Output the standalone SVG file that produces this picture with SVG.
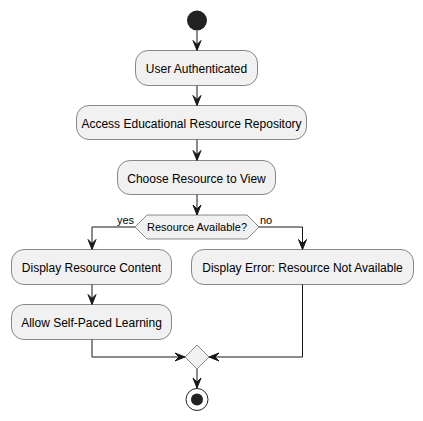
<svg xmlns="http://www.w3.org/2000/svg" width="423" height="421" viewBox="0 0 423 421">
<style>
.n{fill:#F1F1F1;stroke:#181818;stroke-width:0.5}
.t{font-family:"Liberation Sans",Arial,sans-serif;font-size:12px;fill:#000;text-anchor:middle}
.s{font-family:"Liberation Sans",Arial,sans-serif;font-size:11px;fill:#000}
.l{fill:none;stroke:#181818;stroke-width:1}
.a{fill:#181818;stroke:#181818;stroke-width:1}
</style>
<rect width="423" height="421" fill="#FFFFFF"/>
<g id="start"><circle cx="197" cy="20.5" r="10" fill="#222222"/></g>
<g id="n1"><rect class="n" x="135.5" y="50.5" width="122" height="35" rx="12.5"/><text class="t" x="196.5" y="72.5">User Authenticated</text></g>
<g id="n2"><rect class="n" x="76.5" y="105.5" width="230" height="34" rx="12.5"/><text class="t" x="191.5" y="127.5">Access Educational Resource Repository</text></g>
<g id="n3"><rect class="n" x="117.5" y="160.5" width="158" height="34" rx="12.5"/><text class="t" x="196.5" y="183">Choose Resource to View</text></g>
<g id="d1"><polygon class="n" points="135,227 147,215 247,215 259,227 247,239 147,239"/><text class="s" x="197" y="230.7" text-anchor="middle">Resource Available?</text></g>
<g id="n4"><rect class="n" x="11.5" y="249.5" width="160" height="35" rx="12.5"/><text class="t" x="91.5" y="271.5">Display Resource Content</text></g>
<g id="n5"><rect class="n" x="191.5" y="249.5" width="222" height="35" rx="12.5"/><text class="t" x="302.5" y="271.5">Display Error: Resource Not Available</text></g>
<g id="n6"><rect class="n" x="11.5" y="304.5" width="160" height="35" rx="12.5"/><text class="t" x="91.5" y="326.5">Allow Self-Paced Learning</text></g>
<g id="merge"><polygon class="n" points="197,345 209,357 197,369 185,357"/></g>
<g id="end"><circle cx="197" cy="399.5" r="11" fill="none" stroke="#222222" stroke-width="1"/><circle cx="197" cy="399.5" r="6" fill="#222222"/></g>
<g id="connectors">
<path class="l" d="M197,30.5 V50"/><polygon class="a" points="193,40.5 197,50.5 201,40.5 197,44.5"/>
<path class="l" d="M197,85.5 V105"/><polygon class="a" points="193,95.5 197,105.5 201,95.5 197,99.5"/>
<path class="l" d="M197,139.5 V160"/><polygon class="a" points="193,150.5 197,160.5 201,150.5 197,154.5"/>
<path class="l" d="M197,194.5 V214.5"/><polygon class="a" points="193,205 197,215 201,205 197,209"/>
<path class="l" d="M135,227 H92 V249"/><polygon class="a" points="88,239.5 92,249.5 96,239.5 92,243.5"/>
<text class="s" x="117" y="224">yes</text>
<path class="l" d="M259,227 H302.5 V249"/><polygon class="a" points="298.5,239.5 302.5,249.5 306.5,239.5 302.5,243.5"/>
<text class="s" x="260" y="224">no</text>
<path class="l" d="M92,284.5 V304"/><polygon class="a" points="88,294.5 92,304.5 96,294.5 92,298.5"/>
<path class="l" d="M92,339.5 V357 H184.5"/><polygon class="a" points="175,353 185,357 175,361 179,357"/>
<path class="l" d="M302.5,284.5 V357 H209.5"/><polygon class="a" points="219,353 209,357 219,361 215,357"/>
<path class="l" d="M197,369 V388"/><polygon class="a" points="193,378 197,388 201,378 197,382"/>
</g>
</svg>
